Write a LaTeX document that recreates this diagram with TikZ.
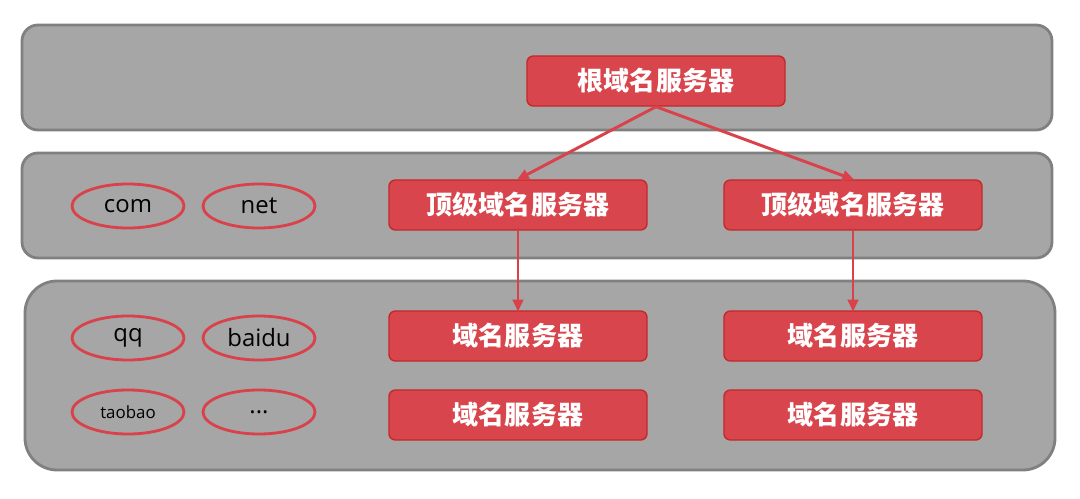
\documentclass[tikz,border=0pt]{standalone}
\usepackage{fontspec}
\setmainfont{Open Sans}
\newfontfamily\cjk{Noto Sans CJK SC}
\usepackage{tikz}
\usetikzlibrary{positioning,shapes.geometric,arrows.meta}
\definecolor{layergray}{HTML}{A6A6A6}
\definecolor{layeredge}{HTML}{808080}
\definecolor{srvred}{HTML}{D8454C}
\definecolor{srvedge}{HTML}{C42A2A}
\definecolor{linkred}{HTML}{D9424B}
\tikzset{
  layer/.style={draw=layeredge, fill=layergray, line width=2pt, rounded corners=0.4cm},
  server/.style={draw=srvedge, fill=srvred, line width=1pt, rounded corners=1.6mm, minimum width=6.45cm, minimum height=1.25cm, text=white, font=\cjk\bfseries\fontsize{18.5}{21}\selectfont},
  tld/.style={draw=linkred, ellipse, line width=2pt, minimum width=2.8cm, minimum height=1.1cm, inner sep=0pt, font=\fontsize{17}{20}\selectfont},
  arrow/.style={-{Triangle[length=3mm,width=2.6mm]}, line width=2.1pt, draw=linkred, shorten >=-1pt}
}
\begin{document}
\begin{tikzpicture}[x=0.025cm, y=-0.025cm]
  \useasboundingbox (0,0) rectangle (1080,499);
  % levels
  \draw[layer] (22,25) rectangle (1052,130);
  \draw[layer] (22,153) rectangle (1052,258);
  \draw[layer, rounded corners=0.8cm] (25,281) rectangle (1055,470);
  % servers
  \node[server] (root) at (656,81) {根域名服务器};
  \node[server] (top1) at (518,205) {顶级域名服务器};
  \node[server] (top2) at (853,205) {顶级域名服务器};
  \node[server] (dom1) at (518,336) {域名服务器};
  \node[server] (dom2) at (853,336) {域名服务器};
  \node[server] (dom3) at (518,415) {域名服务器};
  \node[server] (dom4) at (853,415) {域名服务器};
  % domains
  \node[tld] (com) at (128,206) {com};
  \node[tld] (net) at (259,206) {net};
  \node[tld] (qq) at (128,338) {qq};
  \node[tld] (baidu) at (259,338) {baidu};
  \node[tld, font=\fontsize{12}{14}\selectfont] (taobao) at (128,412) {taobao};
  \node[tld] (more) at (259,412) {...};
  \draw[arrow] (root.south) -- (top1.north);
  \draw[arrow] (root.south) -- (top2.north);
  \draw[arrow] (top1) -- (dom1);
  \draw[arrow] (top2) -- (dom2);
\end{tikzpicture}
\end{document}
